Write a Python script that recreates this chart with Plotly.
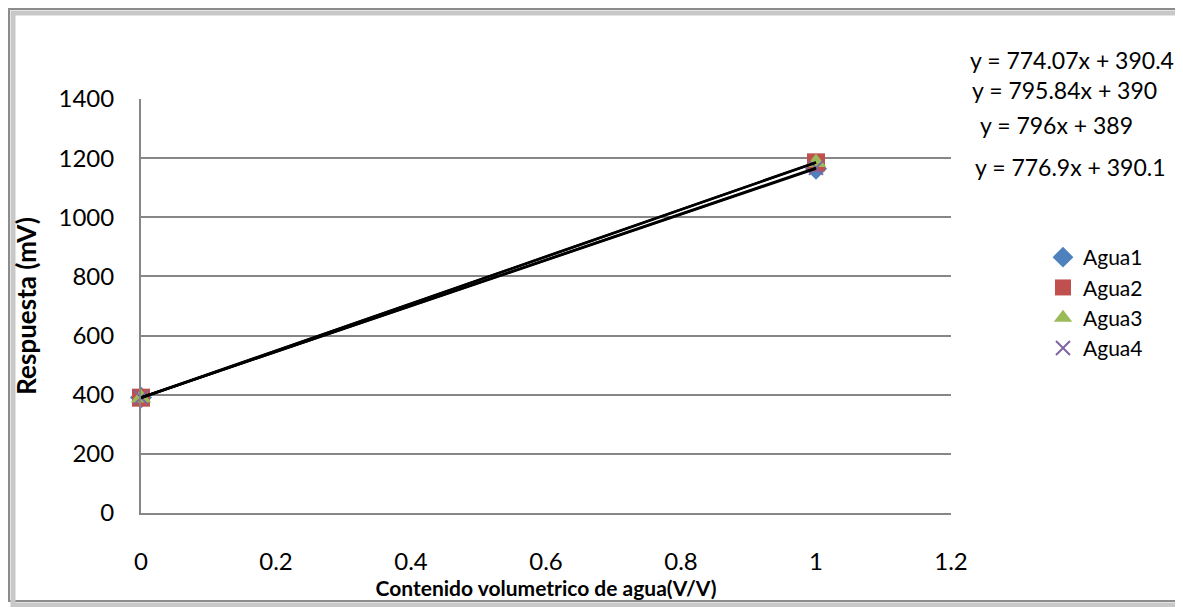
import plotly.graph_objects as go

x_vals = [0, 1]
series_names = ["Agua1", "Agua2", "Agua3", "Agua4"]
slopes = [774.07, 795.84, 796, 776.9]
intercepts = [390.4, 390, 389, 390.1]
equations = ["y = 774.07x + 390.4", "y = 795.84x + 390", "y = 796x + 389", "y = 776.9x + 390.1"]
y_points = [
    [390.4, 1164.5],
    [390, 1185.8],
    [389, 1185],
    [390.1, 1167],
]

colors = ["#4F81BD", "#C0504D", "#9BBB59", "#8064A2"]
symbols = ["diamond", "square", "triangle-up", "x-thin"]
sizes = [17, 18, 18, 14]

font = "Lato, 'Open Sans', sans-serif"
fig = go.Figure()

for name, ys, c, s, sz in zip(series_names, y_points, colors, symbols, sizes):
    marker = dict(color=c, symbol=s, size=sz)
    if s == "x-thin":
        marker["line"] = dict(color=c, width=2)
    fig.add_trace(go.Scatter(x=x_vals, y=ys, mode="markers", name=name, marker=marker,
                             cliponaxis=False))

# linear trendlines
for m, b in zip(slopes, intercepts):
    fig.add_trace(go.Scatter(
        x=x_vals, y=[m * x + b for x in x_vals], mode="lines", cliponaxis=False,
        line=dict(color="black", width=2.5), showlegend=False, hoverinfo="skip"))

# page body has an 8px margin, so pixel positions are shifted by 8
OFF = 8
L, R, T, B = 141 - OFF, 1183 - (951 - OFF), 99 - OFF, 607 - (513 - OFF)
W, H = 1183 - L - R, 607 - T - B
px = lambda v: (v - OFF - L) / W
py = lambda v: (607 - B - (v - OFF)) / H

eq_pos = [(968, 60), (970, 90), (978, 125), (973, 167)]
for txt, (ex, ey) in zip(equations, eq_pos):
    fig.add_annotation(x=px(ex), y=py(ey), xref="paper", yref="paper", text=txt,
                       xanchor="left", yanchor="middle", showarrow=False,
                       font=dict(size=23, color="black", family=font))

# outer frame with shadow
fig.add_shape(type="rect", xref="paper", yref="paper", x0=px(13), x1=px(1181), y0=py(605), y1=py(13),
              line=dict(color="#C8C8C8", width=5))
fig.add_shape(type="rect", xref="paper", yref="paper", x0=px(9), x1=px(1177), y0=py(601), y1=py(9),
              line=dict(color="#8C8C8C", width=2), fillcolor="white", layer="below")

fig.update_layout(
    width=1183, height=607,
    margin=dict(l=L, r=R, t=T, b=B),
    paper_bgcolor="white", plot_bgcolor="rgba(0,0,0,0)",
    font=dict(family=font, size=24, color="black"),
    legend=dict(x=px(1043), y=py(237), xanchor="left", yanchor="top",
                font=dict(size=21), tracegroupgap=0, itemwidth=30),
    xaxis=dict(range=[0, 1.2], dtick=0.2, showgrid=False, zeroline=False,
               showline=True, linecolor="#868686", linewidth=2,
               ticks="outside", ticklen=26, tickcolor="rgba(0,0,0,0)",
               title=dict(text="<b>Contenido volumetrico de agua(V/V)</b>", font=dict(size=21), standoff=4)),
    yaxis=dict(range=[0, 1400], dtick=200, showgrid=True, gridcolor="#868686", gridwidth=2,
               zeroline=False, showline=True, linecolor="#868686", linewidth=2,
               ticks="outside", ticklen=20, tickcolor="rgba(0,0,0,0)",
               title=dict(text="<b>Respuesta (mV)</b>", font=dict(size=26), standoff=14)),
    showlegend=True,
)

fig.write_html("out.html")
